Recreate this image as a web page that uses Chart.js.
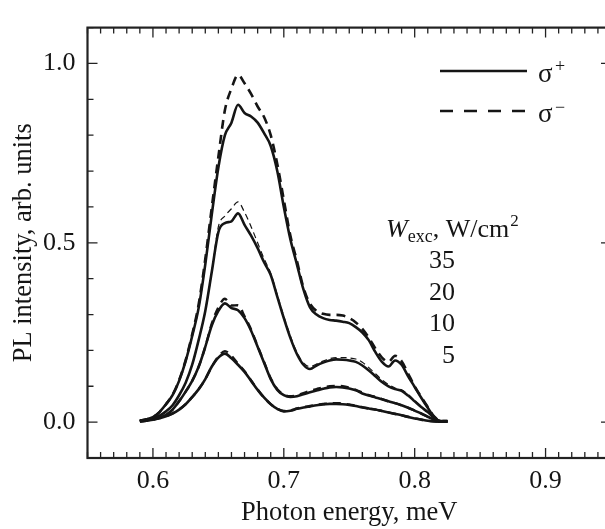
<!DOCTYPE html>
<html>
<head>
<meta charset="utf-8">
<script src="https://cdn.jsdelivr.net/npm/chart.js@4.4.1/dist/chart.umd.min.js"></script>
<style>
  html, body { margin: 0; padding: 0; background: #fff; overflow: hidden; }
  #wrap { width: 620px; height: 529px; }
</style>
</head>
<body>
<div id="wrap"><canvas id="myChart" width="620" height="529"></canvas></div>
<script>
// photon energy grid, meV
const energy = [0.590, 0.595, 0.600, 0.605, 0.610, 0.615, 0.620, 0.625, 0.630, 0.635,
  0.640, 0.645, 0.650, 0.655, 0.660, 0.665, 0.670, 0.675, 0.680, 0.685,
  0.690, 0.695, 0.700, 0.705, 0.710, 0.715, 0.720, 0.725, 0.730, 0.735,
  0.740, 0.745, 0.750, 0.755, 0.760, 0.765, 0.770, 0.775, 0.780, 0.785,
  0.790, 0.795, 0.800, 0.805, 0.810, 0.815, 0.820, 0.825];

// 35 W/cm2
const s35plus = [.004, .008, .014, .028, .05, .075, .115, .17, .24, .32,
  .44, .58, .71, .80, .835, .885, .862, .852, .835, .805,
  .77, .70, .60, .51, .44, .37, .32, .30, .29, .285,
  .283, .28, .276, .265, .25, .228, .195, .168, .155, .172,
  .16, .128, .098, .068, .04, .014, .003, .003];
const s35minus = [.004, .008, .014, .028, .05, .076, .117, .173, .245, .33,
  .455, .60, .74, .87, .93, .968, .945, .915, .88, .85,
  .80, .72, .62, .52, .45, .375, .33, .31, .302, .299,
  .299, .297, .29, .278, .26, .235, .205, .18, .168, .185,
  .17, .135, .10, .07, .042, .015, .003, .003];

// 20 W/cm2
const s20plus = [.003, .006, .011, .018, .03, .047, .075, .11, .16, .23,
  .31, .42, .53, .555, .56, .582, .55, .52, .485, .445,
  .41, .35, .29, .235, .19, .16, .148, .158, .166, .172,
  .175, .174, .172, .168, .158, .144, .128, .112, .10, .092,
  .087, .074, .058, .042, .028, .012, .002, .002];
const s20minus = [.003, .006, .011, .018, .03, .047, .075, .11, .16, .23,
  .31, .42, .545, .575, .595, .614, .585, .545, .50, .455,
  .415, .355, .295, .24, .195, .165, .155, .162, .17, .177,
  .18, .18, .179, .176, .167, .152, .135, .118, .105, .095,
  .09, .077, .06, .044, .029, .012, .002, .002];

// 10 W/cm2
const s10plus = [.003, .005, .008, .013, .02, .035, .058, .085, .115, .155,
  .21, .27, .31, .331, .318, .312, .29, .255, .21, .165,
  .12, .09, .075, .07, .072, .078, .083, .088, .093, .097,
  .098, .097, .094, .089, .08, .074, .069, .064, .058, .053,
  .047, .04, .032, .024, .015, .007, .002, .002];
const s10minus = [.003, .005, .008, .013, .02, .035, .058, .085, .115, .155,
  .21, .275, .32, .344, .325, .326, .295, .258, .212, .167,
  .122, .092, .077, .072, .075, .081, .087, .092, .097, .10,
  .101, .10, .096, .09, .082, .075, .07, .064, .058, .053,
  .047, .04, .032, .024, .015, .007, .002, .002];

// 5 W/cm2
const s5plus = [.002, .004, .007, .011, .016, .024, .035, .05, .07, .092,
  .12, .155, .18, .191, .178, .16, .14, .115, .09, .068,
  .05, .037, .03, .032, .037, .041, .044, .047, .049, .051,
  .051, .05, .048, .045, .041, .038, .035, .031, .027, .023,
  .019, .014, .01, .007, .004, .002, .001, .001];
const s5minus = [.002, .004, .007, .011, .016, .024, .035, .05, .07, .092,
  .12, .155, .183, .198, .185, .163, .142, .116, .091, .068,
  .05, .037, .031, .033, .038, .042, .045, .048, .051, .053,
  .053, .052, .049, .046, .042, .038, .035, .031, .027, .023,
  .019, .015, .011, .007, .004, .002, .001, .001];

const xTicks = [0.6, 0.7, 0.8, 0.9];
const yTicks = [0.0, 0.5, 1.0];
const powerLabels = ['35', '20', '10', '5'];

const serif = '"Liberation Serif", "Times New Roman", serif';
const ink = '#151515';

function pts(arr) {
  return energy.map((e, i) => ({ x: e, y: arr[i] }));
}

function solid(arr) {
  return { data: pts(arr), borderColor: ink, borderWidth: 2.6, pointRadius: 0, cubicInterpolationMode: 'monotone' };
}

function dashed(arr, width, dash) {
  return { data: pts(arr), borderColor: ink, borderWidth: width, borderDash: dash, pointRadius: 0, cubicInterpolationMode: 'monotone' };
}

// frame with inward ticks on all four sides
const frame = {
  id: 'frame',
  afterDraw(chart) {
    const ctx = chart.ctx;
    const a = chart.chartArea;
    const xs = chart.scales.x;
    const ys = chart.scales.y;
    ctx.save();
    ctx.strokeStyle = '#222';
    ctx.lineWidth = 2.2;
    ctx.strokeRect(a.left, a.top, a.right - a.left, a.bottom - a.top);
    ctx.lineWidth = 1.3;
    ctx.beginPath();
    for (let k = 55; k <= 95; k++) {
      const px = xs.getPixelForValue(k / 100);
      const len = k % 10 === 0 ? 10 : 6;
      ctx.moveTo(px, a.bottom); ctx.lineTo(px, a.bottom - len);
      ctx.moveTo(px, a.top); ctx.lineTo(px, a.top + len);
    }
    for (let k = -1; k <= 11; k++) {
      const py = ys.getPixelForValue(k / 10);
      const len = k % 5 === 0 ? 10 : 6;
      ctx.moveTo(a.left, py); ctx.lineTo(a.left + len, py);
      ctx.moveTo(a.right, py); ctx.lineTo(a.right - len, py);
    }
    ctx.stroke();
    ctx.restore();
  }
};

// legend and excitation power notes
const notes = {
  id: 'notes',
  afterDraw(chart) {
    const ctx = chart.ctx;
    ctx.save();
    ctx.strokeStyle = ink;
    ctx.fillStyle = ink;
    ctx.lineWidth = 2.6;
    ctx.beginPath(); ctx.moveTo(440, 71); ctx.lineTo(527, 71); ctx.stroke();
    ctx.setLineDash([13, 11]);
    ctx.beginPath(); ctx.moveTo(440, 111); ctx.lineTo(527, 111); ctx.stroke();
    ctx.setLineDash([]);

    ctx.textAlign = 'left';
    ctx.textBaseline = 'alphabetic';
    ctx.font = '27px ' + serif;
    ctx.fillText('σ', 538, 82);
    ctx.fillText('σ', 538, 122);
    ctx.font = '18px ' + serif;
    ctx.fillText('+', 555, 72);
    ctx.fillText('\u2212', 555, 113);

    let x = 386;
    ctx.font = 'italic 26px ' + serif;
    ctx.fillText('W', x, 237);
    x += ctx.measureText('W').width;
    ctx.font = '18px ' + serif;
    ctx.fillText('exc', x, 242);
    x += ctx.measureText('exc').width;
    ctx.font = '26px ' + serif;
    ctx.fillText(', W/cm', x, 237);
    x += ctx.measureText(', W/cm').width;
    ctx.font = '17px ' + serif;
    ctx.fillText('2', x + 1, 226);

    ctx.font = '26px ' + serif;
    ctx.textAlign = 'right';
    powerLabels.forEach((t, i) => {
      ctx.fillText(t, 455, 268 + i * 31.5);
    });
    ctx.restore();
  }
};

const ctx = document.getElementById('myChart').getContext('2d');
const chart = new Chart(ctx, {
  type: 'line',
  data: {
    datasets: [
      solid(s35plus), solid(s20plus), solid(s10plus), solid(s5plus),
      dashed(s35minus, 2.6, [9, 6]), dashed(s20minus, 1.2, [6, 4]),
      dashed(s10minus, 2.4, [8, 6]), dashed(s5minus, 2.4, [8, 6])
    ]
  },
  options: {
    responsive: false,
    animation: false,
    layout: { padding: { top: 14, right: 9, left: 0, bottom: 0 } },
    plugins: { legend: { display: false }, tooltip: { enabled: false } },
    scales: {
      x: {
        type: 'linear',
        min: 0.55,
        max: 0.95,
        afterFit: s => { s.height = 71; },
        afterBuildTicks: s => { s.ticks = xTicks.map(v => ({ value: v })); },
        grid: { display: false, drawTicks: false },
        border: { display: false },
        ticks: { color: ink, padding: 8, maxRotation: 0, font: { family: serif, size: 26 }, callback: v => v.toFixed(1) },
        title: { display: true, text: 'Photon energy, meV', color: ink, padding: { top: 0, bottom: 0 }, font: { family: serif, size: 26.5 } }
      },
      y: {
        min: -0.1,
        max: 1.1,
        afterFit: s => { s.width = 87.5; },
        afterBuildTicks: s => { s.ticks = yTicks.map(v => ({ value: v })); },
        grid: { display: false, drawTicks: false },
        border: { display: false },
        ticks: { color: ink, padding: 12, font: { family: serif, size: 26 }, callback: v => v.toFixed(1) },
        title: { display: true, text: 'PL intensity, arb. units', color: ink, padding: { top: 8, bottom: 0 }, font: { family: serif, size: 26.5 } }
      }
    }
  },
  plugins: [frame, notes]
});
</script>
</body>
</html>
